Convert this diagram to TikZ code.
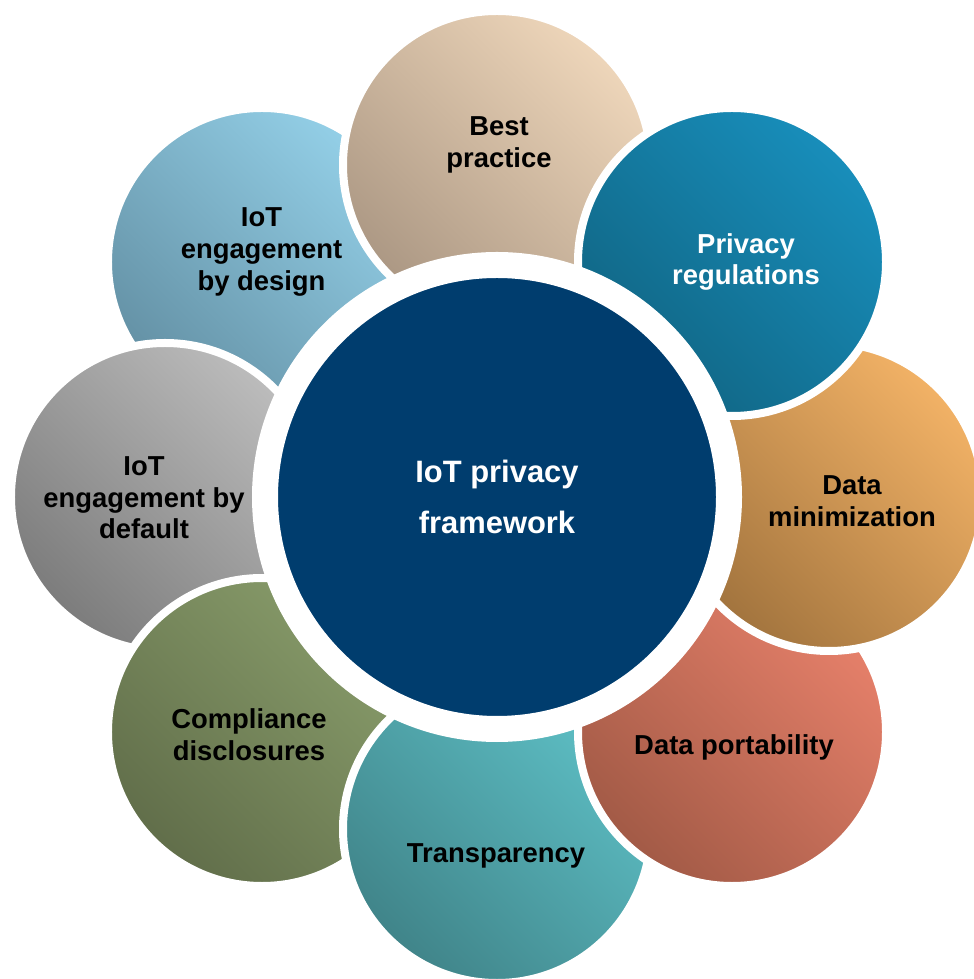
\documentclass[tikz,border=0pt]{standalone}
\usepackage{fontspec}
\setmainfont{Liberation Sans}
\usepackage{tikz}
\definecolor{hubnavy}{RGB}{0, 61, 110}
\definecolor{bestlight}{RGB}{238, 214, 186}
\definecolor{bestdark}{RGB}{172, 152, 132}
\definecolor{reglight}{RGB}{24, 142, 187}
\definecolor{regdark}{RGB}{16, 100, 130}
\definecolor{minlight}{RGB}{242, 178, 102}
\definecolor{mindark}{RGB}{162, 116, 62}
\definecolor{portlight}{RGB}{230, 128, 106}
\definecolor{portdark}{RGB}{162, 90, 70}
\definecolor{translight}{RGB}{94, 192, 198}
\definecolor{transdark}{RGB}{64, 132, 137}
\definecolor{complight}{RGB}{137, 157, 107}
\definecolor{compdark}{RGB}{97, 110, 74}
\definecolor{defaultlight}{RGB}{188, 188, 188}
\definecolor{defaultdark}{RGB}{124, 124, 124}
\definecolor{designlight}{RGB}{148, 208, 232}
\definecolor{designdark}{RGB}{100, 145, 165}

\begin{document}
\begin{tikzpicture}[
        petal/.style={circle, draw=white, line width=0.08cm, minimum size=3.08cm, inner sep=0pt},
        hub/.style={circle, draw=white, line width=0.26cm, minimum size=4.64cm, inner sep=0pt, fill=hubnavy, text=white, align=center, font=\bfseries\fontsize{8.8}{14.5}\selectfont},
        petaltext/.style={align=center, text=black, font=\bfseries\fontsize{7.8}{9}\selectfont}
    ]
    \useasboundingbox (-4.97, -4.82) rectangle (4.77, 4.97);

    % Outer circles (back to front)
    \node[petal, top color=designlight, bottom color=designdark, shading angle=-45] (design) at (-2.35, 2.35) {};
    \node[petal, top color=defaultlight, bottom color=defaultdark, shading angle=-45] (default) at (-3.32, 0) {};
    \node[petal, top color=complight, bottom color=compdark, shading angle=-45] (compliance) at (-2.35, -2.35) {};
    \node[petal, top color=translight, bottom color=transdark, shading angle=-45] (transparency) at (0, -3.32) {};
    \node[petal, top color=portlight, bottom color=portdark, shading angle=-45] (portability) at (2.35, -2.35) {};
    \node[petal, top color=minlight, bottom color=mindark, shading angle=-45] (minimization) at (3.32, 0) {};
    \node[petal, top color=bestlight, bottom color=bestdark, shading angle=-45] (best) at (0, 3.32) {};
    \node[petal, top color=reglight, bottom color=regdark, shading angle=-45] (regulations) at (2.35, 2.35) {};

    % Centre
    \node[hub] (framework) at (0, 0) {IoT privacy\\ framework};

    % Labels
    \node[petaltext] (best_label) at (0.02, 3.52) {Best\\ practice};
    \node[petaltext, text=white] (regulations_label) at (2.49, 2.35) {Privacy\\ regulations};
    \node[petaltext] (minimization_label) at (3.55, -0.04) {Data\\ minimization};
    \node[petaltext] (portability_label) at (2.37, -2.50) {Data portability};
    \node[petaltext] (transparency_label) at (-0.01, -3.59) {Transparency};
    \node[petaltext] (compliance_label) at (-2.48, -2.38) {Compliance\\ disclosures};
    \node[petaltext] (default_label) at (-3.53, -0.01) {IoT\\ engagement by\\ default};
    \node[petaltext] (design_label) at (-2.355, 2.45) {IoT\\ engagement\\ by design};

\end{tikzpicture}
\end{document}
